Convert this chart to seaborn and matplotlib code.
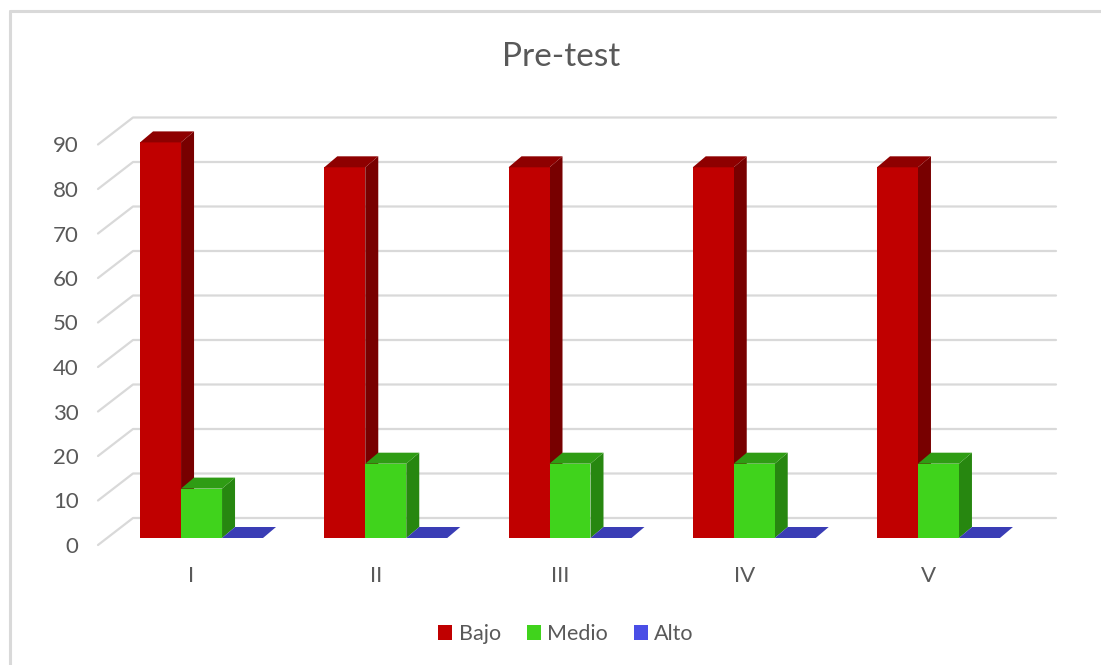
import pandas as pd
import seaborn as sns
import matplotlib.pyplot as plt
from matplotlib.lines import Line2D
from matplotlib.patches import Polygon, Patch
from matplotlib.transforms import IdentityTransform, ScaledTranslation

# Data
categories = ['I', 'II', 'III', 'IV', 'V']
series = ['Bajo', 'Medio', 'Alto']
bajo = [88.9, 83.3, 83.3, 83.3, 83.3]
medio = [11.1, 16.7, 16.7, 16.7, 16.7]
alto = [0, 0, 0, 0, 0]
y_ticks = [0, 10, 20, 30, 40, 50, 60, 70, 80, 90]

# Excel-ish 3D colours: front, side, top
front_cols = {'Bajo': '#C00000', 'Medio': '#40D31C', 'Alto': '#4A4EE6'}
side_cols = {'Bajo': '#780000', 'Medio': '#278710', 'Alto': '#2E319A'}
top_cols = {'Bajo': '#8E0000', 'Medio': '#2F9C14', 'Alto': '#3A3DB5'}

df = pd.DataFrame({
    'Dimension': categories * 3,
    'Nivel': ['Bajo'] * 5 + ['Medio'] * 5 + ['Alto'] * 5,
    'Valor': bajo + medio + alto,
})

sns.set_style('white')
plt.rcParams['font.family'] = ['Lato', 'DejaVu Sans']
text_col = '#595959'
grid_col = '#D9D9D9'

W, H = 1101, 665
fig = plt.figure(figsize=(W / 100, H / 100), dpi=100)
ax = fig.add_axes([98 / W, 1 - 538 / H, (1021 - 98) / W, (538 - 137.5) / H])

sns.barplot(data=df, x='Dimension', y='Valor', hue='Nivel', hue_order=series,
            palette=front_cols, saturation=1, width=0.6675, linewidth=0,
            legend=False, ax=ax)

ax.set_xlim(-0.562, 4.448)
ax.set_ylim(0, 90)
ax.set_yticks(y_ticks)
ax.patch.set_visible(False)
for s in ax.spines.values():
    s.set_visible(False)
ax.set_xlabel('')
ax.set_ylabel('')
ax.tick_params(axis='both', length=0, labelsize=16, labelcolor=text_col)
ax.tick_params(axis='y', pad=14)
ax.tick_params(axis='x', pad=20)
for lab in ax.get_yticklabels():
    lab.set_transform(lab.get_transform() + ScaledTranslation(0, -0.07, fig.dpi_scale_trans))
for lab in ax.get_xticklabels():
    lab.set_transform(lab.get_transform() + ScaledTranslation(-0.10, 0, fig.dpi_scale_trans))

# back wall gridlines with the diagonal floor/side edge
to_disp = ax.transData.transform
x_left = ax.transAxes.transform((0, 0))[0]
x_right = ax.transAxes.transform((1, 0))[0]
for v in y_ticks:
    yd = to_disp((0, v))[1]
    ln = Line2D([x_left, x_left + 35, x_right + 35], [yd - 7, yd + 20, yd + 20],
                transform=IdentityTransform(), color=grid_col, lw=1.6, zorder=0)
    ln.set_clip_on(False)
    ax.add_line(ln)

# fake depth: side and top faces for each bar
dx, dy = 13, 11
for cont, name in zip(ax.containers, series):
    for rect in cont:
        rect.set_zorder(3)
        x0, w, h = rect.get_x(), rect.get_width(), rect.get_height()
        xa, ya = to_disp((x0, 0))
        xb, yb = to_disp((x0 + w, h))
        if h > 0:
            side = Polygon([(xb, ya), (xb, yb), (xb + dx, yb + dy), (xb + dx, ya + dy)],
                           closed=True, transform=IdentityTransform(),
                           facecolor=side_cols[name], edgecolor='none', zorder=2)
            side.set_clip_on(False)
            ax.add_patch(side)
        top = Polygon([(xa, yb), (xb, yb), (xb + dx, yb + dy), (xa + dx, yb + dy)],
                      closed=True, transform=IdentityTransform(),
                      facecolor=top_cols[name], edgecolor='none', zorder=4)
        top.set_clip_on(False)
        ax.add_patch(top)

# title and legend
fig.text(561 / W, 1 - 57 / H, 'Pre-test', ha='center', va='center',
         fontsize=24, color=text_col)
handles = [Patch(facecolor=front_cols[s], edgecolor='none') for s in series]
fig.legend(handles, series, loc='center', bbox_to_anchor=(566 / W, 1 - 634 / H),
           ncol=3, frameon=False, fontsize=15.5, labelcolor=text_col,
           handlelength=0.65, handleheight=0.65, handletextpad=0.3, columnspacing=1.2)

# chart area border (left and top edges visible)
for xs, ys in [([9.5, 9.5], [H - 11, 0]), ([9.5, W], [H - 11, H - 11])]:
    fig.add_artist(Line2D(xs, ys, transform=IdentityTransform(), color='#D9D9D9', lw=2.2))

fig.savefig('out.png', dpi=100)
plt.close(fig)
